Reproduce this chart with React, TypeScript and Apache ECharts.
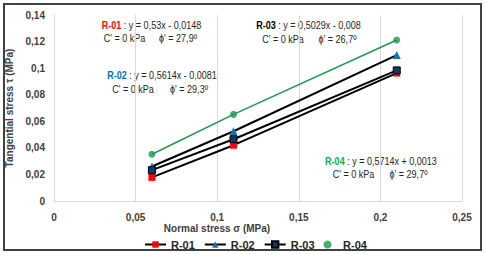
import React, { useEffect, useRef } from "react";
import * as echarts from "echarts";

const xValues = [0.06, 0.11, 0.21];
const r01 = [0.0178, 0.042, 0.0963];
const r02 = [0.026, 0.0525, 0.1098];
const r03 = [0.0232, 0.0465, 0.0983];
const r04 = [0.0352, 0.0652, 0.1212];
const seriesNames = ["R-01", "R-02", "R-03", "R-04"];

const FONT = "'Liberation Sans', Arial, sans-serif";
const TXT = "#262626";

const pairs = (ys: number[]) => xValues.map((x, i) => [x, ys[i]]);
const comma = (v: number) => String(Math.round(v * 1000) / 1000).replace(".", ",");

export default function App() {
  const ref = useRef<HTMLDivElement>(null);
  useEffect(() => {
    if (!ref.current) return;
    const chart = echarts.init(ref.current, undefined, { renderer: "svg" });
    const t = (x: number, y: number, text: string, rich?: any) => ({
      type: "text",
      x,
      y,
      scaleX: 0.82,
      style: {
        text,
        x: 0,
        y: 0,
        align: "center",
        verticalAlign: "middle",
        fontFamily: FONT,
        fontSize: 11,
        fill: TXT,
        rich,
      },
    });
    const richFor = (color: string) => ({
      h: { fontFamily: FONT, fontSize: 11, fontWeight: "bold", fill: color, color },
      n: { fontFamily: FONT, fontSize: 11, fill: TXT, color: TXT },
    });
    chart.setOption({
      animation: false,
      backgroundColor: "#ffffff",
      grid: {
        left: 54,
        right: 24,
        top: 15,
        bottom: 53,
        containLabel: false,
        outerBoundsMode: "none",
      },
      xAxis: {
        type: "value",
        min: 0,
        max: 0.25,
        interval: 0.05,
        axisLine: { show: true, lineStyle: { color: "#d9d9d9" } },
        axisTick: { show: false },
        splitLine: { show: true, lineStyle: { color: "#d9d9d9" } },
        axisLabel: {
          formatter: comma,
          color: "#404040",
          fontWeight: "bold",
          fontFamily: FONT,
          fontSize: 10,
          margin: 11,
        },
      },
      yAxis: {
        type: "value",
        min: 0,
        max: 0.14,
        interval: 0.02,
        name: "Tangential stress τ (MPa)",
        nameLocation: "middle",
        nameGap: 38,
        nameTextStyle: {
          color: "#404040",
          fontWeight: "bold",
          fontFamily: FONT,
          fontSize: 10,
        },
        axisLine: { show: true, lineStyle: { color: "#d9d9d9" } },
        axisTick: { show: false },
        splitLine: { show: false },
        axisLabel: {
          formatter: comma,
          color: "#404040",
          fontWeight: "bold",
          fontFamily: FONT,
          fontSize: 10,
          margin: 9,
        },
      },
      legend: {
        left: 139,
        top: 234,
        itemWidth: 21,
        itemHeight: 8,
        itemGap: 9,
        data: seriesNames,
        textStyle: {
          color: "#262626",
          fontWeight: "bold",
          fontFamily: FONT,
          fontSize: 11,
        },
      },
      series: [
        {
          name: "R-01",
          type: "line",
          data: pairs(r01),
          symbol: "rect",
          symbolSize: 7,
          itemStyle: { color: "#ff0000" },
          lineStyle: { color: "#000000", width: 2 },
        },
        {
          name: "R-02",
          type: "line",
          data: pairs(r02),
          symbol: "triangle",
          symbolSize: 8,
          itemStyle: { color: "#1f6fb4" },
          lineStyle: { color: "#000000", width: 2 },
        },
        {
          name: "R-03",
          type: "line",
          data: pairs(r03),
          symbol: "rect",
          symbolSize: 7,
          itemStyle: { color: "#0d3b66", borderColor: "#000000", borderWidth: 1 },
          lineStyle: { color: "#000000", width: 2 },
        },
        {
          name: "R-04 trend",
          type: "line",
          data: pairs(r04),
          symbol: "none",
          lineStyle: { color: "#1a9a4a", width: 1.5 },
          z: 1,
        },
        {
          name: "R-04",
          type: "scatter",
          data: pairs(r04),
          symbol: "circle",
          symbolSize: 7,
          itemStyle: { color: "#1a9a4a" },
        },
      ],
      graphic: [
        {
          type: "rect",
          shape: { x: 4, y: 4, width: 477, height: 246 },
          style: { fill: "none", stroke: "#404040", lineWidth: 2 },
          silent: true,
        },
        {
          type: "text",
          x: 217,
          y: 228,
          style: {
            text: "Normal stress σ (MPa)",
            align: "center",
            verticalAlign: "middle",
            fontFamily: FONT,
            fontWeight: "bold",
            fontSize: 10,
            fill: "#404040",
          },
        },
        t(151.5, 25, "{h|R-01}{n| : y = 0,53x - 0,0148}", richFor("#ff0000")),
        t(124.5, 38.5, "C' = 0 kPa"),
        t(178, 38.5, "ϕ' = 27,9º"),
        t(162, 75.5, "{h|R-02}{n| : y = 0,5614x - 0,0081}", richFor("#0070c0")),
        t(133, 89.5, "C' = 0 kPa"),
        t(189, 89.5, "ϕ' = 29,3º"),
        t(308.5, 25.5, "{h|R-03}{n| : y = 0,5029x - 0,008}", richFor("#000000")),
        t(283, 39.5, "C' = 0 kPa"),
        t(337.5, 39.5, "ϕ' = 26,7º"),
        t(381, 161, "{h|R-04}{n| : y = 0,5714x + 0,0013}", richFor("#00b050")),
        t(353.5, 174.5, "C' = 0 kPa"),
        t(408.5, 174.5, "ϕ' = 29,7º"),
      ],
    });
    return () => chart.dispose();
  }, []);
  return (
    <div
      ref={ref}
      style={{ position: "fixed", left: 0, top: 0, width: 486, height: 254 }}
    />
  );
}
